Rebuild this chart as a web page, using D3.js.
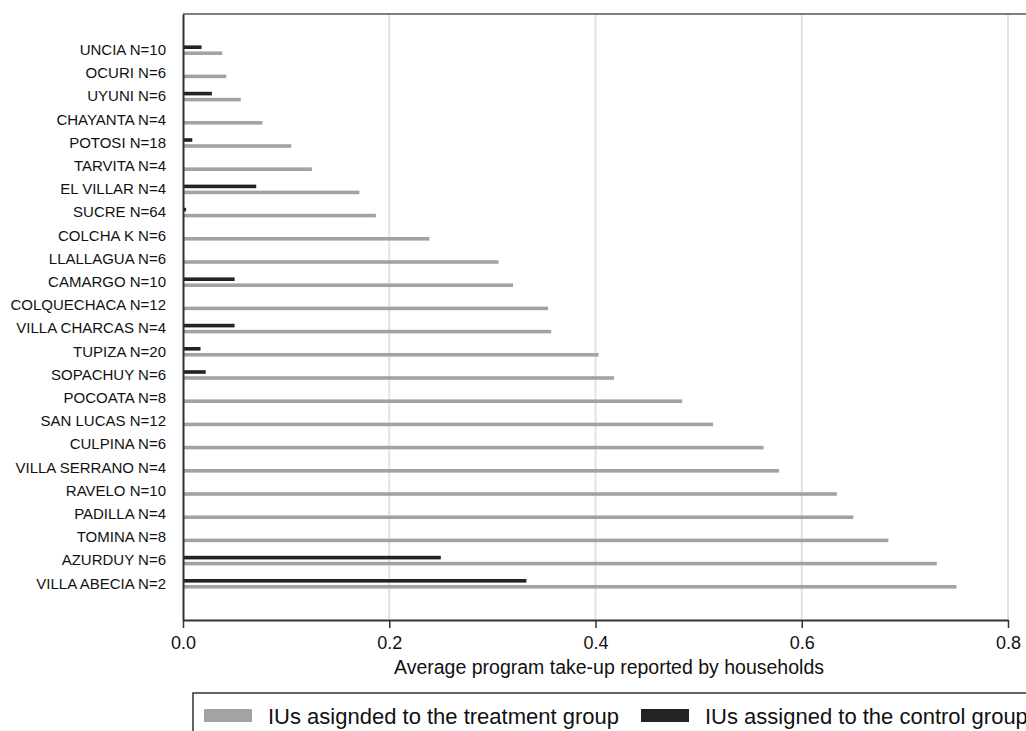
<!DOCTYPE html>
<html>
<head>
<meta charset="utf-8">
<script src="https://cdn.jsdelivr.net/npm/d3@7"></script>
<style>
  body { margin: 0; background: #fff; }
  svg { display: block; font-family: "Liberation Sans", Arial, sans-serif; }
</style>
</head>
<body>
<div id="chart"></div>
<script>
let width = 1026,
    height = 731;

// municipalities, top to bottom
const names = ["UNCIA N=10", "OCURI N=6", "UYUNI N=6", "CHAYANTA N=4", "POTOSI N=18",
  "TARVITA N=4", "EL VILLAR N=4", "SUCRE N=64", "COLCHA K N=6", "LLALLAGUA N=6",
  "CAMARGO N=10", "COLQUECHACA N=12", "VILLA CHARCAS N=4", "TUPIZA N=20", "SOPACHUY N=6",
  "POCOATA N=8", "SAN LUCAS N=12", "CULPINA N=6", "VILLA SERRANO N=4", "RAVELO N=10",
  "PADILLA N=4", "TOMINA N=8", "AZURDUY N=6", "VILLA ABECIA N=2"];

const treatment = [0.038, 0.042, 0.056, 0.077, 0.105, 0.125, 0.171, 0.187, 0.239, 0.306,
  0.320, 0.354, 0.357, 0.403, 0.418, 0.484, 0.514, 0.563, 0.578, 0.634,
  0.650, 0.684, 0.731, 0.750];

const control = [0.018, 0, 0.028, 0, 0.009, 0, 0.071, 0.003, 0, 0,
  0.050, 0, 0.050, 0.017, 0.022, 0, 0, 0, 0, 0,
  0, 0, 0.250, 0.333];

const xTicks = [0, 0.2, 0.4, 0.6, 0.8];
const groups = ["control", "treatment"];
const groupLabels = ["IUs assigned to the control group", "IUs asignded to the treatment group"];

const color = { control: "#232323", treatment: "#a3a3a3" };

const svg = d3.select("#chart")
  .append("svg")
  .attr("width", width)
  .attr("height", height);

const plot = { top: 14, bottom: 620, left: 183 };

let x = d3.scaleLinear()
  .domain([0, 0.8])
  .range([plot.left, 1008]);

let y = d3.scaleBand()
  .domain(names)
  .range([plot.top, plot.bottom])
  .paddingInner(0)
  .paddingOuter(1.06);

const barH = 3.6;
const mid = y.bandwidth() / 2;
const sub = d3.scaleBand()
  .domain(groups)
  .range([mid - 3 - barH / 2, mid + 3 + barH / 2])
  .paddingInner((6 - barH) / 6);

// gridlines
svg.append("g")
  .selectAll("line")
  .data(xTicks.slice(1))
  .join("line")
  .attr("x1", d => x(d)).attr("x2", d => x(d))
  .attr("y1", plot.top).attr("y2", plot.bottom)
  .attr("stroke", "#e3e3e3")
  .attr("stroke-width", 2);

// top frame
svg.append("line")
  .attr("x1", plot.left).attr("x2", width + 10)
  .attr("y1", plot.top).attr("y2", plot.top)
  .attr("stroke", "#555")
  .attr("stroke-width", 1.6);

const rows = names.map((n, i) => ({ name: n, treatment: treatment[i], control: control[i] }));

svg.append("g")
  .selectAll("g")
  .data(rows)
  .join("g")
  .attr("transform", d => `translate(0,${y(d.name)})`)
  .selectAll("rect")
  .data(d => groups.map(g => ({ key: g, value: d[g] })))
  .join("rect")
  .attr("x", x(0))
  .attr("y", d => sub(d.key))
  .attr("width", d => x(d.value) - x(0))
  .attr("height", sub.bandwidth())
  .attr("fill", d => color[d.key]);

// y axis
const yAxis = svg.append("g")
  .attr("transform", `translate(${plot.left},0)`)
  .call(d3.axisLeft(y).tickSize(0).tickPadding(17));
yAxis.select(".domain").attr("stroke", "#333").attr("stroke-width", 2);
yAxis.selectAll("text")
  .style("font-size", "15px")
  .attr("fill", "#111")
  .attr("font-family", "'Liberation Sans', Arial, sans-serif");

// x axis
const xAxis = svg.append("g")
  .attr("transform", `translate(0,${plot.bottom})`)
  .call(d3.axisBottom(x).tickValues(xTicks).tickFormat(d3.format(".1f")).tickSize(8).tickPadding(8).tickSizeOuter(0));
xAxis.select(".domain").attr("stroke", "#333").attr("stroke-width", 2);
xAxis.selectAll(".tick line").attr("stroke", "#333").attr("stroke-width", 1.5);
xAxis.selectAll("text")
  .style("font-size", "18px")
  .attr("fill", "#111")
  .attr("font-family", "'Liberation Sans', Arial, sans-serif");

svg.append("text")
  .attr("x", 609)
  .attr("y", 674)
  .attr("text-anchor", "middle")
  .style("font-size", "19.5px")
  .attr("fill", "#111")
  .text("Average program take-up reported by households");

// legend
svg.append("rect")
  .attr("x", 193).attr("y", 693)
  .attr("width", 900).attr("height", 60)
  .attr("fill", "none")
  .attr("stroke", "#333")
  .attr("stroke-width", 1.5);

const legendItems = [
  { key: "treatment", label: groupLabels[1], x: 204 },
  { key: "control", label: groupLabels[0], x: 641 }
];

const leg = svg.append("g")
  .selectAll("g")
  .data(legendItems)
  .join("g")
  .attr("transform", d => `translate(${d.x},709)`);

leg.append("rect")
  .attr("width", 48).attr("height", 13)
  .attr("fill", d => color[d.key]);

leg.append("text")
  .attr("x", 64)
  .attr("y", 15)
  .style("font-size", "22px")
  .attr("fill", "#111")
  .text(d => d.label);
</script>
</body>
</html>
